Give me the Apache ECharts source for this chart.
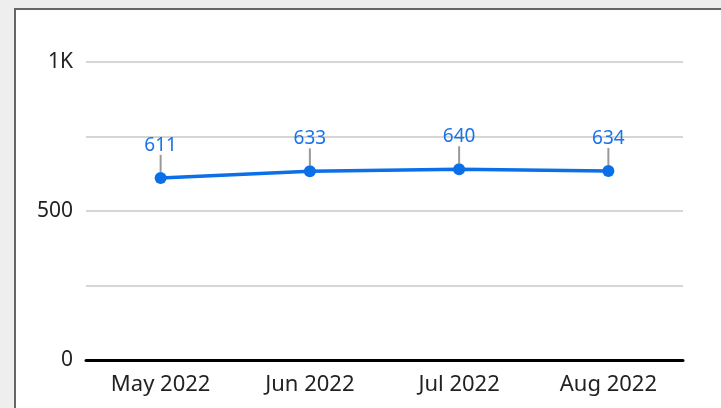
<!DOCTYPE html>
<html>
<head>
<meta charset="utf-8">
<script src="https://cdn.jsdelivr.net/npm/echarts@6/dist/echarts.min.js"></script>
<style>
  html, body { margin: 0; padding: 0; background: #eeeeee; width: 721px; height: 408px; overflow: hidden; }
  .panel { position: absolute; left: 14px; top: 8px; width: 800px; height: 500px; background: #fff; border: 2px solid #666; }
  #chart { position: absolute; left: 0; top: 0; width: 721px; height: 408px; }
</style>
</head>
<body>
<div class="panel"></div>
<div id="chart"></div>
<script>
const months = ['May 2022', 'Jun 2022', 'Jul 2022', 'Aug 2022']
const values = [611, 633, 640, 634]
const yTicks = [0, 250, 500, 750, 1000]

const blue = '#0a6fe8'
const chart = echarts.init(document.getElementById('chart'))

chart.setOption({
  animation: false,
  textStyle: { fontFamily: 'Noto Sans' },
  grid: { left: 86, right: 38, top: 62, bottom: 48 },
  xAxis: {
    type: 'category',
    data: months,
    axisTick: { show: false },
    axisLine: { lineStyle: { color: '#000', width: 3 } },
    axisLabel: { color: '#222', fontSize: 22, margin: 14 }
  },
  yAxis: {
    type: 'value',
    min: yTicks[0],
    max: yTicks[yTicks.length - 1],
    interval: 250,
    axisLine: { show: false },
    axisTick: { show: false },
    splitLine: { lineStyle: { color: '#d6d6d6', width: 2 } },
    axisLabel: {
      color: '#222',
      fontSize: 21,
      margin: 13,
      formatter: v => v === 1000 ? '1K' : (v % 500 === 0 ? String(v) : '')
    }
  },
  series: [
    {
      type: 'line',
      data: values,
      symbol: 'circle',
      symbolSize: 12,
      lineStyle: { color: blue, width: 3.5 },
      itemStyle: { color: blue },
      label: { show: true, position: 'top', color: '#1a73e8', fontSize: 19, distance: 4 },
      labelLayout: { dy: -13 },
      labelLine: { show: true, lineStyle: { color: '#999', width: 2 } }
    }
  ]
})
</script>
</body>
</html>
